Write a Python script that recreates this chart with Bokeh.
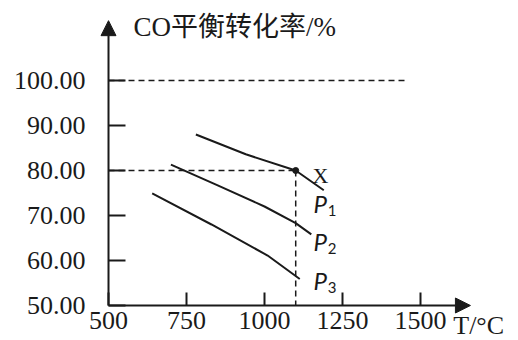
from bokeh.plotting import figure
from bokeh.models import Range1d, FixedTicker, PrintfTickFormatter, Arrow, NormalHead
from bokeh.core.properties import value
from bokeh.embed import file_html
from bokeh.resources import INLINE

# ---- data ----
x_ticks = [500, 750, 1000, 1250, 1500]
y_ticks = [50, 60, 70, 80, 90, 100]

p1_T = [780, 940, 1100, 1190]
p1_y = [88.0, 83.6, 80.0, 75.6]
p2_T = [700, 850, 1000, 1100, 1150]
p2_y = [81.3, 76.7, 72.0, 68.3, 65.8]
p3_T = [640, 830, 1010, 1113]
p3_y = [74.9, 68.0, 61.1, 55.9]

x_min, y_min = 500, 50
x_arrow_end, y_arrow_end = 1660, 113.3
point_T, point_y = 1100, 80          # point X
top_ref_y, top_ref_end = 100, 1450   # dashed 100 % line

curve_names = ["P", "P", "P"]
curve_subs = ["1", "2", "3"]
label_T = [1157, 1157, 1157]
label_y = [72.7, 64.2, 55.6]
sub_T = [1203, 1203, 1203]
sub_y = [71.0, 62.6, 54.0]

title_text = "CO平衡转化率/%"
xlabel_text = "T/°C"

ink = "#1a1a1a"
serif = "'Liberation Serif', 'Noto Sans CJK SC', serif"

p = figure(width=518, height=340, title=None,
           x_range=Range1d(153.8, 1814.1), y_range=Range1d(42.22, 117.78),
           output_backend="svg", toolbar_location=None,
           min_border=0, min_border_left=0, min_border_right=0,
           min_border_top=0, min_border_bottom=0)
p.outline_line_color = None
p.grid.visible = False
p.background_fill_color = "white"

# axes fixed at the data origin
for ax, loc, ticks in ((p.xaxis[0], y_min, x_ticks), (p.yaxis[0], x_min, y_ticks)):
    ax.fixed_location = loc
    ax.ticker = FixedTicker(ticks=ticks)
    ax.axis_line_color = None
    ax.major_tick_out = 0
    ax.minor_tick_line_color = None
    ax.major_tick_line_color = ink
    ax.major_tick_line_width = 2
    ax.major_label_text_font = "Liberation Serif"
    ax.major_label_text_font_size = "26px"
    ax.major_label_text_color = ink

p.xaxis.major_tick_in = 13
p.xaxis.major_label_standoff = 7
p.yaxis.major_tick_in = 17
p.yaxis.major_label_standoff = 23
p.yaxis.formatter = PrintfTickFormatter(format="%.2f")

# axis arrows
p.add_layout(Arrow(end=NormalHead(size=15, fill_color=ink, line_color=ink),
                   x_start=x_min, y_start=y_min, x_end=x_arrow_end, y_end=y_min,
                   line_color=ink, line_width=2))
p.add_layout(Arrow(end=NormalHead(size=15, fill_color=ink, line_color=ink),
                   x_start=x_min, y_start=y_min, x_end=x_min, y_end=y_arrow_end,
                   line_color=ink, line_width=2))

# dashed reference lines
p.line([x_min, top_ref_end], [top_ref_y, top_ref_y], line_dash="6 4", line_color=ink, line_width=1.5)
p.line([x_min, point_T], [point_y, point_y], line_dash="6 4", line_color=ink, line_width=1.5)
p.line([point_T, point_T], [point_y, y_min], line_dash="6 4", line_color=ink, line_width=1.5)

# curves
for T, y in ((p1_T, p1_y), (p2_T, p2_y), (p3_T, p3_y)):
    p.line(T, y, line_color=ink, line_width=2)

p.scatter([point_T], [point_y], size=6, color=ink)

# labels
p.text([1154], [78.9], text=["X"], text_font=value("Liberation Serif"), text_font_size="22px",
       text_baseline="middle", text_align="left", text_color=ink)
p.text(label_T, label_y, text=curve_names, text_font=value("Lato"), text_font_style="italic",
       text_font_size="24px", text_baseline="middle", text_align="left", text_color=ink)
p.text(sub_T, sub_y, text=curve_subs, text_font=value("Lato"),
       text_font_size="15px", text_baseline="middle", text_align="left", text_color=ink)

p.text([580], [111.8], text=[title_text], text_font=value(serif), text_font_size="27px",
       text_baseline="middle", text_align="left", text_color=ink)
p.text([1605], [45.6], text=[xlabel_text], text_font=value("Liberation Serif"), text_font_size="26px",
       text_baseline="middle", text_align="left", text_color=ink)

open("out.html", "w").write(file_html(p, INLINE))
